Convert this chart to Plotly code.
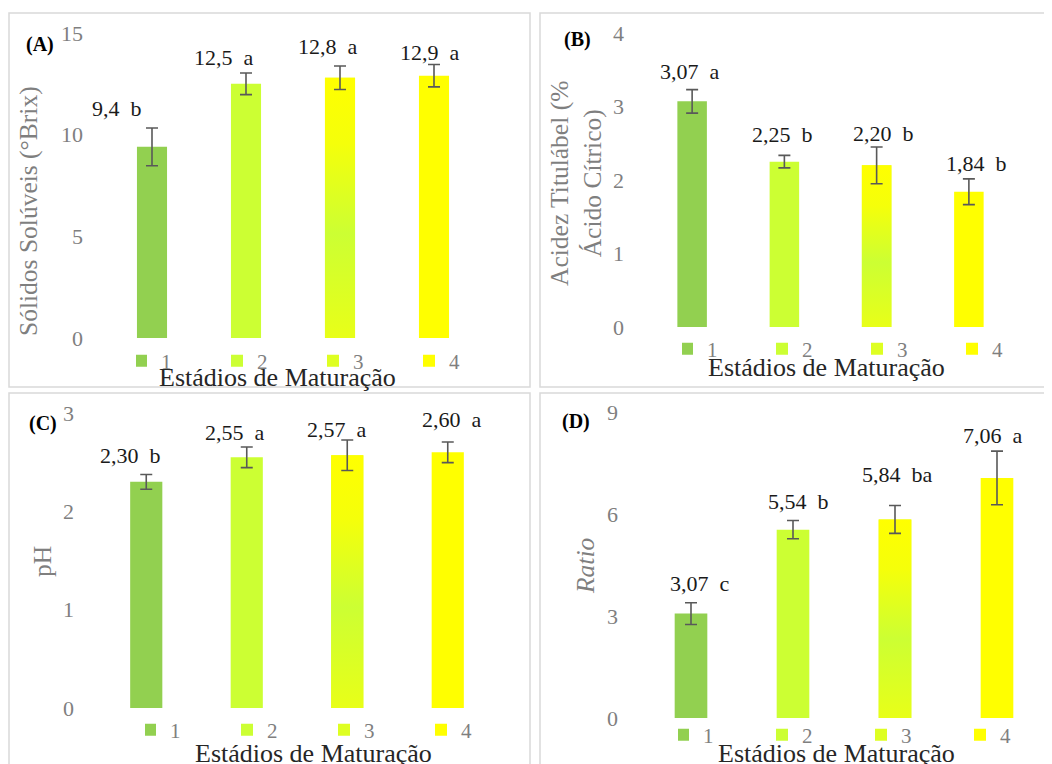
import plotly.graph_objects as go

# ---------------- data ----------------
stages = ["1", "2", "3", "4"]

ss_mean = [9.4, 12.5, 12.8, 12.9]          # (A) Sólidos Solúveis (°Brix)
ss_err = [0.93, 0.53, 0.58, 0.55]
ss_letters = ["b", "a", "a", "a"]

at_mean = [3.07, 2.25, 2.20, 1.84]          # (B) Acidez Titulável
at_err = [0.16, 0.085, 0.25, 0.175]
at_letters = ["a", "b", "b", "b"]

ph_mean = [2.30, 2.55, 2.57, 2.60]          # (C) pH
ph_err = [0.075, 0.105, 0.155, 0.105]
ph_letters = ["b", "a", "a", "a"]

ratio_mean = [3.07, 5.54, 5.84, 7.06]       # (D) Ratio
ratio_err = [0.32, 0.27, 0.41, 0.79]
ratio_letters = ["c", "b", "ba", "a"]

# ---------------- styling ----------------
OFF = 8                      # page body margin
W, H = 1052 - OFF, 764 - OFF
FONT = "Liberation Serif"
bar_colors = ["#92D050", "#CCFF33", "#DEFF22", "#FFFF00"]
grad_scale = [[0, "#E8FF18"], [0.4, "#CCFF33"], [0.75, "#F5FF0A"], [1, "#FFFF00"]]
BAR_W = 0.32
tick_grey = "#7F7F7F"


def X(px):
    return (px - OFF) / W


def Y(py):
    return 1 - (py - OFF) / H


panels = [
    dict(mean=ss_mean, err=ss_err, letters=ss_letters, dec=1, rng=[0, 15], dtick=5,
         xdom=[X(105), X(481)], ydom=[Y(338), Y(33)],
         lab_dx=[-35, -22, -12, -4], lab_dy=[19, 16, 19, 12],
         tag="(A)", tag_xy=(40, 44),
         ytitle="Sólidos Solúveis (°Brix)", ytitle_xy=(28, 211),
         xtitle_xy=(277, 377), legend_xy=(136, 361), border=(9, 13, 530, 387)),
    dict(mean=at_mean, err=at_err, letters=at_letters, dec=2, rng=[0, 4], dtick=1,
         xdom=[X(646), X(1015)], ydom=[Y(327), Y(33)],
         lab_dx=[-2, -2, 7, 8], lab_dy=[18, 21, 13, 15],
         tag="(B)", tag_xy=(577, 39),
         ytitle="Acidez Titulábel (%<br>Ácido Cítrico)", ytitle_xy=(576, 184),
         xtitle_xy=(826, 367), legend_xy=(682, 349), border=(540, 13, 1070, 387)),
    dict(mean=ph_mean, err=ph_err, letters=ph_letters, dec=2, rng=[0, 3], dtick=1,
         xdom=[X(96), X(498)], ydom=[Y(708), Y(413)],
         lab_dx=[-16, -12, -10, 4], lab_dy=[19, 14, 11, 23],
         tag="(C)", tag_xy=(43, 423),
         ytitle="pH", ytitle_xy=(42, 562),
         xtitle_xy=(313, 753), legend_xy=(145, 730), border=(9, 393, 530, 800)),
    dict(mean=ratio_mean, err=ratio_err, letters=ratio_letters, dec=2, rng=[0, 9], dtick=3,
         xdom=[X(640), X(1048)], ydom=[Y(718), Y(412)],
         lab_dx=[9, 5, 2, -4], lab_dy=[19, 19, 31, 16],
         tag="(D)", tag_xy=(576, 421),
         ytitle="<i>Ratio</i>", ytitle_xy=(585, 566),
         xtitle_xy=(836, 753), legend_xy=(678, 735), border=(540, 393, 1070, 800)),
]
legend_entry_w = [66, 65, 67, 69]

fig = go.Figure()
annotations = []
shapes = []
layout_upd = {}

for p_i, p in enumerate(panels):
    n = p_i + 1
    xa = "x" if n == 1 else f"x{n}"
    ya = "y" if n == 1 else f"y{n}"
    leg = "legend" if n == 1 else f"legend{n}"
    xs = list(range(len(stages)))

    # bars
    for i, st in enumerate(stages):
        fig.add_trace(go.Bar(
            x=[i], y=[p["mean"][i]], width=BAR_W, name=st,
            marker=dict(color=bar_colors[i], line=dict(width=0)),
            xaxis=xa, yaxis=ya, legend=leg, showlegend=True,
        ))
    # gradient fill for stage 3 bar
    i3 = 2
    v3 = p["mean"][i3]
    fig.add_trace(go.Scatter(
        x=[i3 - BAR_W / 2, i3 + BAR_W / 2, i3 + BAR_W / 2, i3 - BAR_W / 2, i3 - BAR_W / 2],
        y=[0, 0, v3, v3, 0], mode="lines", fill="toself", line=dict(width=0),
        fillgradient=dict(type="vertical", colorscale=grad_scale),
        xaxis=xa, yaxis=ya, showlegend=False, hoverinfo="skip",
    ))
    # error bars
    fig.add_trace(go.Scatter(
        x=xs, y=p["mean"], mode="markers",
        marker=dict(size=1, color="rgba(0,0,0,0)"),
        error_y=dict(type="data", array=p["err"], visible=True,
                     color="#595959", thickness=1.6, width=6),
        xaxis=xa, yaxis=ya, showlegend=False, hoverinfo="skip",
    ))

    # value labels
    for i in xs:
        val = f"{p['mean'][i]:.{p['dec']}f}".replace(".", ",")
        annotations.append(dict(
            x=i, y=p["mean"][i] + p["err"][i], xref=xa, yref=ya,
            text=f"{val}\u00a0\u00a0{p['letters'][i]}", showarrow=False,
            xanchor="center", yanchor="middle",
            xshift=p["lab_dx"][i], yshift=p["lab_dy"][i],
            font=dict(family=FONT, size=22, color="#1A1A1A"),
        ))

    # panel tag
    annotations.append(dict(
        x=X(p["tag_xy"][0]), y=Y(p["tag_xy"][1]), xref="paper", yref="paper",
        text=f"<b>{p['tag']}</b>", showarrow=False, xanchor="center", yanchor="middle",
        font=dict(family=FONT, size=20, color="#000000"),
    ))
    # y title
    annotations.append(dict(
        x=X(p["ytitle_xy"][0]), y=Y(p["ytitle_xy"][1]), xref="paper", yref="paper",
        text=p["ytitle"], showarrow=False, textangle=-90,
        xanchor="center", yanchor="middle",
        font=dict(family=FONT, size=25.5, color=tick_grey),
    ))
    # x title
    annotations.append(dict(
        x=X(p["xtitle_xy"][0]), y=Y(p["xtitle_xy"][1]), xref="paper", yref="paper",
        text="Estádios de Maturação", showarrow=False,
        xanchor="center", yanchor="middle",
        font=dict(family=FONT, size=26, color="#262626"),
    ))
    # panel border
    bx0, by0, bx1, by1 = p["border"]
    shapes.append(dict(type="rect", xref="paper", yref="paper",
                       x0=X(bx0), x1=X(bx1), y0=Y(by1), y1=Y(by0),
                       line=dict(color="#D9D9D9", width=1.5), fillcolor="rgba(0,0,0,0)",
                       layer="below"))

    xkey = "xaxis" if n == 1 else f"xaxis{n}"
    ykey = "yaxis" if n == 1 else f"yaxis{n}"
    layout_upd[xkey] = dict(domain=p["xdom"], anchor=ya, range=[-0.5, 3.5],
                            showticklabels=False, showgrid=False, zeroline=False,
                            showline=False, ticks="", automargin=False)
    layout_upd[ykey] = dict(domain=p["ydom"], anchor=xa, range=p["rng"], dtick=p["dtick"],
                            tick0=0, showgrid=False, zeroline=False, showline=False,
                            ticks="", ticklabelstandoff=21, automargin=False,
                            tickfont=dict(family=FONT, size=22, color=tick_grey))
    layout_upd[leg] = dict(orientation="h", x=X(p["legend_xy"][0]), y=Y(p["legend_xy"][1]),
                           xanchor="left", yanchor="middle", xref="paper", yref="paper",
                           entrywidth=legend_entry_w[p_i], entrywidthmode="pixels",
                           indentation=-15,
                           bgcolor="rgba(0,0,0,0)", borderwidth=0,
                           font=dict(family=FONT, size=21, color=tick_grey))

fig.update_layout(
    width=W, height=H, margin=dict(l=0, r=0, t=0, b=0, autoexpand=False),
    paper_bgcolor="white", plot_bgcolor="white",
    barmode="overlay", annotations=annotations, shapes=shapes,
    font=dict(family=FONT), **layout_upd,
)

fig.write_html("out.html")
